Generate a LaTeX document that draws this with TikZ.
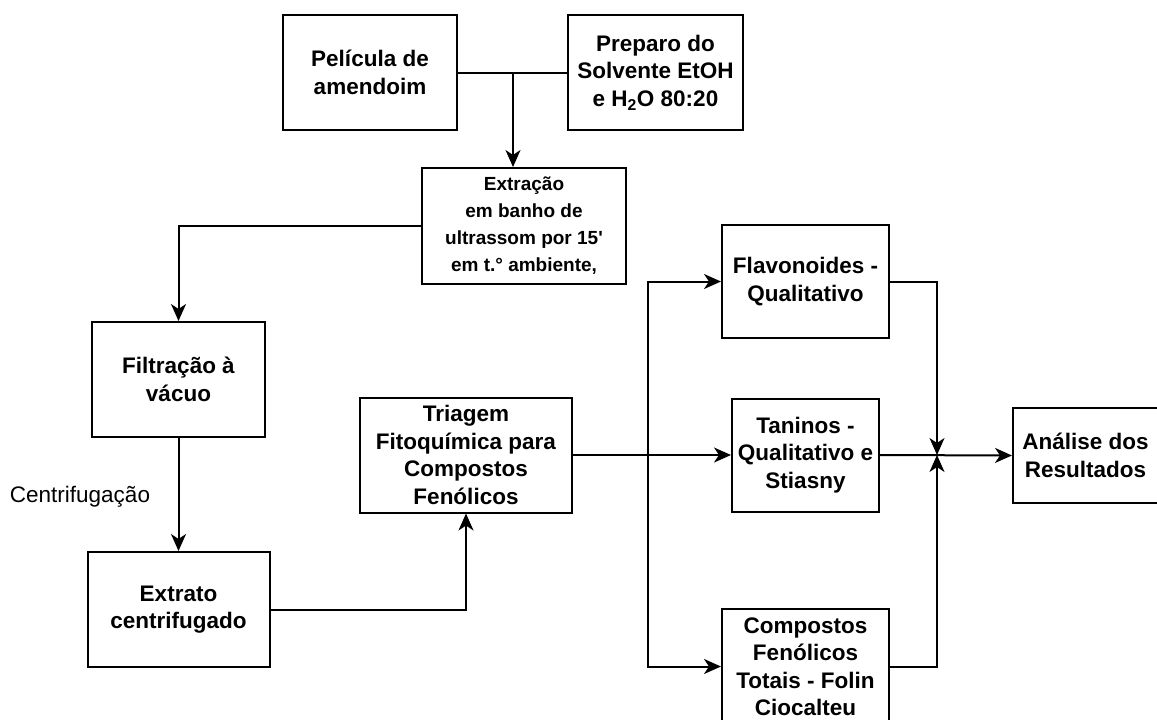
\documentclass[tikz,border=0pt]{standalone}
\usepackage{fontspec}
\setmainfont{Liberation Sans}
\usetikzlibrary{arrows.meta}
\begin{document}
\begin{tikzpicture}[x=1pt,y=-1pt,
  box/.style={draw=black, line width=2pt, align=center, inner sep=0pt,
    font=\fontsize{22.5}{27.5}\selectfont\bfseries, anchor=center},
  conn/.style={line width=2pt},
  arr/.style={line width=2pt, -{Stealth[length=17pt,width=15pt,inset=5pt]}}]
\useasboundingbox (0,0) rectangle (1157,720);
\fill[white] (0,0) rectangle (1157,720);
\node[box, minimum width=174pt, minimum height=115pt] (pel) at (370,72.5) {Película de\\amendoim};
\node[box, minimum width=175pt, minimum height=115pt] (prep) at (655.5,72.5) {Preparo do\\Solvente EtOH\\e H\textsubscript{2}O 80:20};
\node[box, minimum width=204pt, minimum height=116pt, font=\fontsize{19}{27}\selectfont\bfseries] (ext) at (524,226) {Extração\\em banho de\\ultrassom por 15\textquotesingle\\em t.° ambiente,};
\node[box, minimum width=173pt, minimum height=115pt] (filt) at (178.5,379.5) {Filtração à\\vácuo};
\node[box, minimum width=182pt, minimum height=115pt] (extr) at (178.5,609.5) {Extrato\\centrifugado};
\node[box, minimum width=212pt, minimum height=115pt] (tri) at (466,455) {Triagem\\Fitoquímica para\\Compostos\\Fenólicos};
\node[box, minimum width=167pt, minimum height=113pt] (flav) at (805.5,281.5) {Flavonoides -\\Qualitativo};
\node[box, minimum width=147pt, minimum height=113pt] (tan) at (805.5,455) {Taninos -\\Qualitativo e\\Stiasny};
\node[box, minimum width=167pt, minimum height=115pt] (comp) at (805.5,666.5) {Compostos\\Fenólicos\\Totais - Folin\\Ciocalteu};
\node[box, minimum width=145pt, minimum height=95pt] (ana) at (1085.5,455.5) {Análise dos\\Resultados};
\node[font=\fontsize{22.5}{27}\selectfont, anchor=center] (cent) at (80,497) {Centrifugação};
\coordinate (j) at (513,72.5);
\coordinate (br) at (648,455);
\coordinate (m) at (937,455);
\draw[conn] (pel.east) -- (prep.west);
\draw[arr] (j) -- (j |- ext.north);
\draw[arr] (ext.west) -| (filt.north);
\draw[arr] (filt.south) -- (extr.north);
\draw[arr] (extr.east) -| (tri.south);
\draw[arr] (tri.east) -- (tan.west);
\draw[arr] (br) |- (flav.west);
\draw[arr] (br) |- (comp.west);
\draw[arr] (flav.east) -| (m);
\draw[arr] (comp.east) -| (m);
\draw[arr] (tan.east) -- (ana.west);
\end{tikzpicture}
\end{document}
